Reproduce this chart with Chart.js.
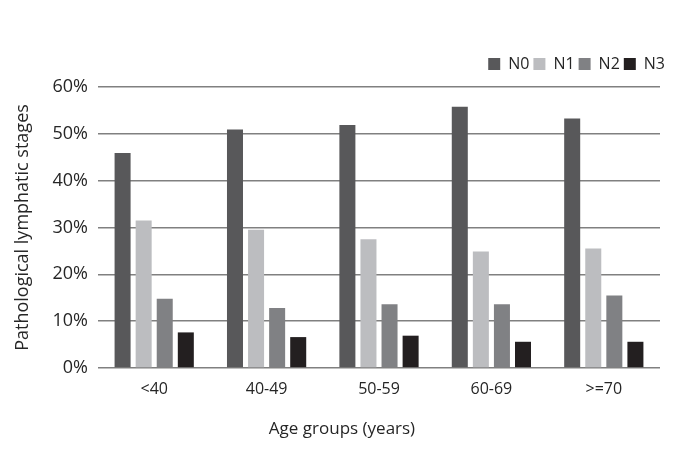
<!DOCTYPE html>
<html>
<head>
<meta charset="utf-8">
<script src="https://cdn.jsdelivr.net/npm/chart.js@4/dist/chart.umd.min.js"></script>
<style>
  body { margin: 0; background: #fff; }
</style>
</head>
<body>
<canvas id="chart" width="698" height="458"></canvas>
<script>
'use strict';

const AGE_GROUPS = ['<40', '40-49', '50-59', '60-69', '>=70'];
const STAGES = ['N0', 'N1', 'N2', 'N3'];
const N0 = [45.9, 50.9, 51.9, 55.8, 53.3];
const N1 = [31.5, 29.5, 27.5, 24.9, 25.5];
const N2 = [14.8, 12.8, 13.6, 13.6, 15.5];
const N3 = [7.6, 6.6, 6.9, 5.6, 5.6];
const Y_TICKS = [0, 10, 20, 30, 40, 50, 60];
const X_TITLE = 'Age groups (years)';
const Y_TITLE = 'Pathological lymphatic stages';

const COLORS = ['#58585a', '#bcbdc0', '#808184', '#231f20'];
const FONT = 'Open Sans';
const TEXT = '#262626';

// x title sits left of the plot centre in the original, so draw it by hand
const xTitlePlugin = {
  id: 'xTitle',
  afterDraw(chart) {
    const { ctx } = chart;
    ctx.save();
    ctx.font = `17px "${FONT}"`;
    ctx.fillStyle = TEXT;
    ctx.textAlign = 'center';
    ctx.textBaseline = 'middle';
    ctx.fillText(X_TITLE, 342, 429);
    ctx.restore();
  },
};

// a bit more room under the legend, and nudge it right past the plot edge
const legendSpacing = {
  id: 'legendSpacing',
  beforeInit(chart) {
    const fit = chart.legend.fit;
    chart.legend.fit = function () {
      fit.call(this);
      this.height += 5;
    };
  },
  afterLayout(chart) {
    chart.legend.left += 9;
    chart.legend.right += 9;
  },
};

const series = [N0, N1, N2, N3];

new Chart(document.getElementById('chart'), {
  type: 'bar',
  data: {
    labels: AGE_GROUPS,
    datasets: STAGES.map((name, i) => ({
      label: name,
      data: series[i],
      backgroundColor: COLORS[i],
      categoryPercentage: 0.75,
      barPercentage: 0.76,
    })),
  },
  options: {
    responsive: false,
    animation: false,
    layout: { padding: { top: 52, right: 38, bottom: 0, left: 0 } },
    plugins: {
      legend: {
        position: 'top',
        align: 'end',
        labels: {
          boxWidth: 12,
          boxHeight: 12,
          padding: 4,
          color: TEXT,
          font: { family: FONT, size: 16 },
        },
      },
      tooltip: { enabled: false },
    },
    scales: {
      x: {
        grid: { display: false, drawTicks: false },
        border: { display: false },
        ticks: { color: TEXT, padding: 12, font: { family: FONT, size: 16 } },
        afterFit: (s) => { s.height = 90; },
      },
      y: {
        min: 0,
        max: 60,
        afterBuildTicks: (s) => { s.ticks = Y_TICKS.map((v) => ({ value: v })); },
        grid: { color: '#808080', lineWidth: 1.6, drawTicks: false },
        border: { display: false },
        ticks: {
          color: TEXT,
          padding: 10,
          font: { family: FONT, size: 18 },
          callback: (v) => v + '%',
        },
        title: {
          display: true,
          text: Y_TITLE,
          color: TEXT,
          padding: { top: 12, bottom: 0 },
          font: { family: FONT, size: 18 },
        },
        afterFit: (s) => { s.width = 98; },
      },
    },
  },
  plugins: [xTitlePlugin, legendSpacing],
});
</script>
</body>
</html>
